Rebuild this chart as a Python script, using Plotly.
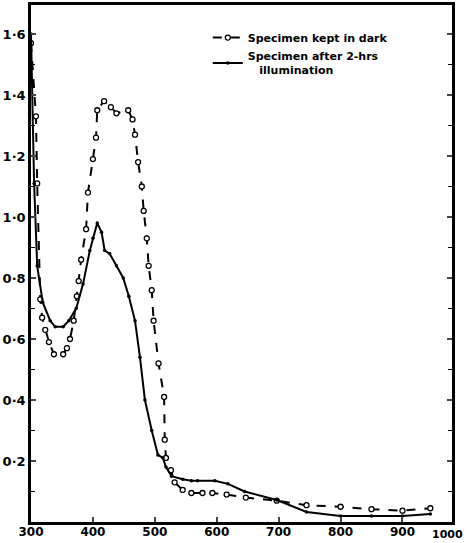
import plotly.graph_objects as go

# Specimen kept in dark (dashed, open circles)
dark_wl = [300, 308, 310, 315, 318, 323, 329, 337, 352, 358, 363, 369, 374, 377, 381,
           389, 392, 400, 405, 407, 418, 429, 438, 457, 464, 468, 473, 479, 482, 487,
           490, 495, 498, 506, 515, 516, 518, 526, 532, 545, 559, 577, 593, 616, 647,
           697, 745, 800, 850, 900, 945]
dark_abs = [1.57, 1.33, 1.11, 0.73, 0.67, 0.63, 0.59, 0.55, 0.55, 0.57, 0.60, 0.66, 0.74, 0.79, 0.86,
            0.96, 1.08, 1.19, 1.26, 1.35, 1.38, 1.36, 1.34, 1.35, 1.32, 1.27, 1.18, 1.10, 1.02, 0.93,
            0.84, 0.76, 0.66, 0.52, 0.41, 0.27, 0.21, 0.17, 0.13, 0.105, 0.095, 0.095, 0.095, 0.09, 0.08,
            0.07, 0.055, 0.05, 0.042, 0.037, 0.045]

# Specimen after 2-hrs illumination (solid, dots)
light_wl = [300, 305, 310, 319, 331, 339, 352, 361, 373, 384, 395, 400, 407, 414, 419,
            427, 438, 449, 458, 468, 476, 484, 495, 505, 513, 518, 527, 545, 559, 569,
            597, 618, 645, 697, 745, 800, 850, 900, 945]
light_abs = [1.60, 1.11, 0.84, 0.72, 0.66, 0.64, 0.64, 0.66, 0.70, 0.78, 0.89, 0.93, 0.98, 0.95, 0.89,
             0.88, 0.84, 0.80, 0.74, 0.66, 0.54, 0.40, 0.30, 0.22, 0.21, 0.18, 0.15, 0.14, 0.135, 0.135,
             0.135, 0.125, 0.10, 0.072, 0.033, 0.02, 0.02, 0.02, 0.026]

x_ticks = [300, 400, 500, 600, 700, 800, 900]
y_ticks = [0.2, 0.4, 0.6, 0.8, 1.0, 1.2, 1.4, 1.6]
y_ticktext = ["0·2", "0·4", "0·6", "0·8", "1·0", "1·2", "1·4", "1·6"]

FONT = "DejaVu Sans"

fig = go.Figure()
fig.add_trace(go.Scatter(
    x=dark_wl, y=dark_abs, mode="lines+markers", name="Specimen kept in dark",
    line=dict(color="black", width=2, dash="dash"),
    marker=dict(symbol="circle", size=5, color="white", line=dict(color="black", width=1.3)),
))
fig.add_trace(go.Scatter(
    x=light_wl, y=light_abs, mode="lines+markers",
    name="Specimen after 2-hrs<br>\u00a0\u00a0\u00a0illumination",
    line=dict(color="black", width=2),
    marker=dict(symbol="circle", size=3.5, color="black"),
))

fig.add_annotation(x=1.031, y=-0.008, xref="paper", yref="paper", text="1000",
                   showarrow=False, xanchor="right", yanchor="top",
                   font=dict(family=FONT, size=11, color="black", weight="bold"))

fig.update_layout(
    width=467, height=543,
    margin=dict(l=31, r=15, t=5, b=21),
    paper_bgcolor="white", plot_bgcolor="white",
    font=dict(family=FONT, color="black"),
    showlegend=True,
    legend=dict(x=0.42, y=0.965, xanchor="left", yanchor="top",
                bgcolor="rgba(0,0,0,0)", itemwidth=30, tracegroupgap=0,
                font=dict(family=FONT, size=11, color="black", weight="bold")),
    xaxis=dict(range=[300, 980], tickvals=x_ticks, ticks="inside", ticklen=5, tickwidth=1.5,
               showline=True, linecolor="black", linewidth=2.5, mirror=True,
               showgrid=False, zeroline=False, ticklabelstandoff=-3, automargin=False,
               tickfont=dict(family=FONT, size=12, color="black", weight="bold")),
    yaxis=dict(range=[0, 1.695], tickvals=y_ticks, ticktext=y_ticktext, ticks="inside",
               ticklen=5, tickwidth=1.5, showline=True, linecolor="black", linewidth=2.5,
               mirror="allticks", showgrid=False, zeroline=False, automargin=False,
               minor=dict(tickvals=[0.1, 0.3, 0.5, 0.7, 0.9, 1.1, 1.3, 1.5], ticks="inside",
                          ticklen=4, tickwidth=1.2, tickcolor="black"),
               tickfont=dict(family=FONT, size=13, color="black", weight="bold")),
)

fig.write_html("out.html", config={"displayModeBar": False},
               post_script="document.body.style.margin='0';")
